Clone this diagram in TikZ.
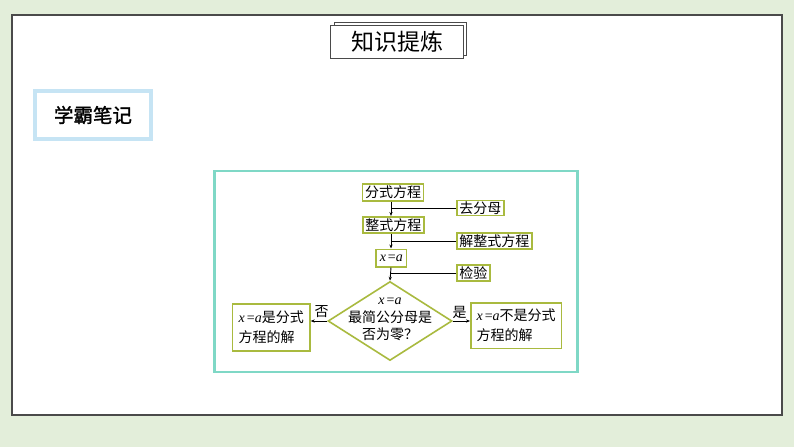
\documentclass[tikz,border=0pt]{standalone}
\usepackage{fontspec}
\setmainfont{Noto Sans CJK SC}
\newfontfamily\tnr{Liberation Serif}
\newfontfamily\cjkbold[FakeBold=1.5]{Noto Sans CJK SC}
\usetikzlibrary{shapes.geometric,arrows.meta}
\definecolor{bgg}{HTML}{E3EEDA}
\definecolor{framegray}{HTML}{4A4A4A}
\definecolor{tealline}{HTML}{7FD8C6}
\definecolor{olivebox}{HTML}{A9BA3F}
\definecolor{noteblue}{HTML}{C6E4F4}
\newcommand\xeqa{{\tnr\itshape x}\hspace{2pt}{\tnr =}{\tnr\itshape a}}
\tikzset{
  flowbox/.style={draw=olivebox, line width=1.6pt, fill=white, font=\fontsize{14}{16}\selectfont,
    inner xsep=2.5pt, inner ysep=0pt, minimum height=16.5pt},
  resbox/.style={draw=olivebox, line width=1.6pt, fill=white, font=\fontsize{14}{20}\selectfont,
    align=left, inner xsep=4pt, inner ysep=0pt},
  dia/.style={diamond, draw=olivebox, line width=1.6pt, fill=white, inner sep=0pt,
    minimum width=124pt, minimum height=79pt},
  conn/.style={line width=0.9pt, black},
  arr/.style={conn, -{Stealth[length=4pt,width=3.2pt]}},
  lbl/.style={font=\fontsize{14}{16}\selectfont, inner sep=0pt},
}
\begin{document}
\begin{tikzpicture}[x=1pt,y=-1pt]
\useasboundingbox (0,0) rectangle (794,447);
\fill[bgg] (0,0) rectangle (794,447);
\draw[framegray, line width=1.2pt, fill=white] (12,15) rectangle (782,415);
% title
\draw[framegray, line width=0.9pt, fill=white] (334,22) rectangle (466,55);
\node[draw=framegray, line width=0.9pt, fill=white, minimum width=133pt, minimum height=33pt,
  inner sep=0pt, font=\fontsize{23}{25}\selectfont] (title) at (397,41.5) {知识提炼};
% note label
\node[draw=noteblue, line width=4pt, fill=white, minimum width=116pt, minimum height=48pt,
  inner sep=0pt, font=\fontsize{19.5}{22}\selectfont] (note) at (93,115) {\cjkbold 学霸笔记};
% flow frame
\draw[tealline, line width=2.5pt] (214.7,171) rectangle (577.7,372);
\coordinate (tr) at (391,0);
\node[flowbox] (fc) at (393,192.5) {分式方程};
\node[flowbox] (zc) at (393.3,225) {整式方程};
\node[flowbox, minimum width=30.7pt, minimum height=17.4pt] (xa) at (391.3,258) {\xeqa};
\node[flowbox, anchor=west, minimum height=15pt] (qfm) at (456,208) {去分母};
\node[flowbox, anchor=west, minimum height=16pt] (jz) at (456,241) {解整式方程};
\node[flowbox, anchor=west, minimum height=15.7pt] (jy) at (456,273) {检验};
\node[dia] (d) at (390,321) {};
\node[align=center, font=\fontsize{14}{17.5}\selectfont, inner sep=0pt] (dt) at (390,319.5) {\xeqa\\最简公分母是\\否为零？};
\node[resbox, anchor=east, minimum width=77.4pt, minimum height=47pt] (lb) at (310.7,327.5) {\xeqa 是分式\\方程的解};
\node[resbox, anchor=west, minimum width=90.7pt, minimum height=45.6pt] (rb) at (470,325.5) {\xeqa 不是分式\\方程的解};
\node[lbl] (no) at (321.7,312) {否};
\node[lbl] (yes) at (459.5,312) {是};
% connectors
\draw[arr] (fc.south -| tr) -- (zc.north -| tr);
\draw[arr] (zc.south -| tr) -- (xa.north -| tr);
\draw[arr] (xa.south -| tr) -- (d.north);
\draw[conn] (qfm.west) -- (qfm.west -| tr);
\draw[conn] (jz.west) -- (jz.west -| tr);
\draw[conn] (jy.west) -- (jy.west -| tr);
\draw[arr] (d.west) -- (d.west -| lb.east);
\draw[arr] (d.east) -- (d.east -| rb.west);
\end{tikzpicture}
\end{document}
